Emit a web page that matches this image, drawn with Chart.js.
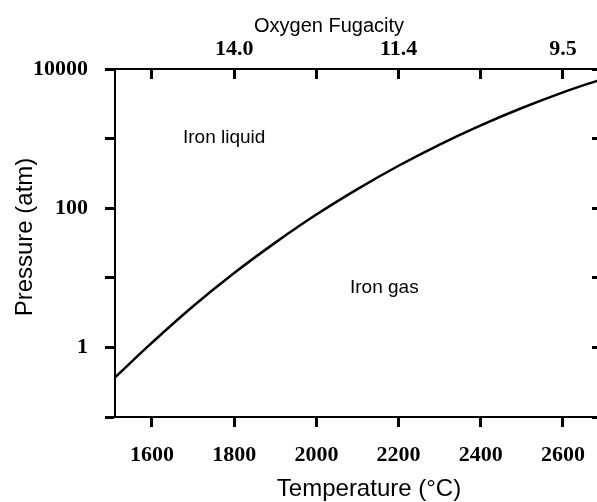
<!DOCTYPE html>
<html>
<head>
<meta charset="utf-8">
<script src="https://cdn.jsdelivr.net/npm/chart.js@4.4.1/dist/chart.umd.min.js"></script>
<style>
  html, body { margin: 0; padding: 0; background: #fff; overflow: hidden; }
  #wrap { width: 610px; height: 502px; }
</style>
</head>
<body>
<div id="wrap"><canvas id="ironChart"></canvas></div>
<script>
// boundary between iron liquid and iron gas
var temps = [1510, 1600, 1700, 1800, 1900, 2000, 2100, 2200, 2300, 2400, 2500, 2600, 2695];
var pressures = [0.37, 1.17, 3.9, 11.7, 32, 81, 188, 407, 822, 1550, 2750, 4620, 7160];

var tempTicks = [1600, 1800, 2000, 2200, 2400, 2600];
var tempLabels = ['1600', '1800', '2000', '2200', '2400', '2600'];
var fugacityLabels = ['', '14.0', '', '11.4', '', '9.5'];
var pressureTicks = [0.1, 1, 10, 100, 1000, 10000];
var pressureLabels = ['', '1', '', '100', '', '10000'];

var tickFont = { family: 'Liberation Serif', size: 22, weight: 'bold' };

function setTicks(list) {
    return function (scale) {
        scale.ticks = list.map(function (v) { return { value: v }; });
    };
}

var textPlugin = {
    id: 'texts',
    afterDraw: function (chart) {
        var c = chart.ctx;
        c.save();
        c.fillStyle = '#000';
        c.textAlign = 'center';
        c.textBaseline = 'alphabetic';
        c.font = '20px "Liberation Sans"';
        c.fillText('Oxygen Fugacity', 329, 32);
        c.font = '24px "Liberation Sans"';
        c.fillText('Temperature (\u00B0C)', 369, 496);
        c.save();
        c.translate(32, 237);
        c.rotate(-Math.PI / 2);
        c.fillText('Pressure (atm)', 0, 0);
        c.restore();
        c.textAlign = 'left';
        c.font = '19px "Liberation Sans"';
        c.fillText('Iron liquid', 183, 143);
        c.fillText('Iron gas', 350, 293);
        c.restore();
    }
};

var ctx = document.getElementById('ironChart').getContext('2d');
var ironChart = new Chart(ctx, {
    type: 'line',
    data: {
        datasets: [{
            data: temps.map(function (t, i) { return { x: t, y: pressures[i] }; }),
            borderColor: '#000',
            borderWidth: 2.5,
            pointRadius: 0,
            tension: 0.4,
            fill: false
        }]
    },
    options: {
        responsive: true,
        maintainAspectRatio: false,
        animation: false,
        layout: { padding: 0 },
        plugins: {
            legend: { display: false },
            tooltip: { enabled: false }
        },
        scales: {
            x: {
                type: 'linear',
                position: 'bottom',
                min: 1510,
                max: 2695,
                afterBuildTicks: setTicks(tempTicks),
                afterFit: function (s) { s.height = 85; },
                ticks: {
                    font: tickFont, color: '#000', padding: 15, maxRotation: 0,
                    callback: function (v, i) { return tempLabels[i]; }
                },
                grid: { drawOnChartArea: false, tickLength: 10, tickWidth: 3, tickColor: '#000' },
                border: { color: '#000', width: 2 }
            },
            x2: {
                type: 'linear',
                position: 'top',
                min: 1510,
                max: 2695,
                afterBuildTicks: setTicks(tempTicks),
                afterFit: function (s) { s.height = 69; },
                ticks: {
                    font: tickFont, color: '#000', padding: 16, maxRotation: 0,
                    callback: function (v, i) { return fugacityLabels[i]; }
                },
                grid: { drawOnChartArea: false, tickLength: -10, tickWidth: 3, tickColor: '#000' },
                border: { color: '#000', width: 2 }
            },
            y: {
                type: 'logarithmic',
                position: 'left',
                min: 0.1,
                max: 10000,
                afterBuildTicks: setTicks(pressureTicks),
                afterFit: function (s) { s.width = 115; },
                ticks: {
                    font: tickFont, color: '#000', padding: 17,
                    callback: function (v, i) { return pressureLabels[i]; }
                },
                grid: { drawOnChartArea: false, tickLength: 10, tickWidth: 3, tickColor: '#000' },
                border: { color: '#000', width: 2 }
            },
            y2: {
                type: 'logarithmic',
                position: 'right',
                min: 0.1,
                max: 10000,
                afterBuildTicks: setTicks(pressureTicks),
                afterFit: function (s) { s.width = 8; },
                ticks: { display: false },
                grid: { drawOnChartArea: false, tickLength: -10, tickWidth: 3, tickColor: '#000' },
                border: { color: '#000', width: 2 }
            }
        }
    },
    plugins: [textPlugin]
});
</script>
</body>
</html>
